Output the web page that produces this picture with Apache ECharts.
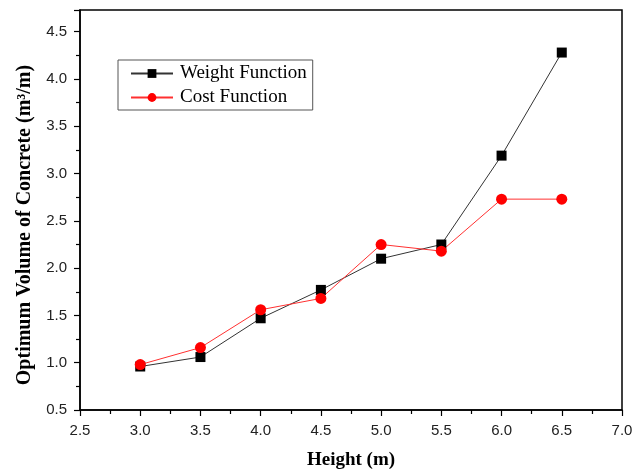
<!DOCTYPE html>
<html>
<head>
<meta charset="utf-8">
<script src="https://cdn.jsdelivr.net/npm/echarts@6/dist/echarts.min.js"></script>
<style>
  html, body { margin: 0; padding: 0; background: #fff; }
  #chart { width: 644px; height: 475px; }
</style>
</head>
<body>
<div id="chart"></div>
<script>
// heights (m)
const heights = [3.0, 3.5, 4.0, 4.5, 5.0, 5.5, 6.0, 6.5]
// optimum concrete volume, weight function
const weightFn = [0.96, 1.06, 1.47, 1.77, 2.10, 2.25, 3.19, 4.28]
// optimum concrete volume, cost function
const costFn = [0.98, 1.16, 1.56, 1.68, 2.25, 2.18, 2.73, 2.73]

const chart = echarts.init(document.getElementById('chart'))

const axisCommon = {
  axisLine: { show: true, lineStyle: { color: '#000', width: 1.5 } },
  axisTick: { show: true, inside: false, length: 6, lineStyle: { color: '#000', width: 1.2 } },
  minorTick: { show: true, splitNumber: 2, length: 4, lineStyle: { color: '#000', width: 1.2 } },
  splitLine: { show: false },
  axisLabel: {
    color: '#222',
    fontFamily: 'Liberation Sans',
    fontSize: 15,
    margin: 13,
    formatter: v => v.toFixed(1),
  },
  nameLocation: 'middle',
  nameTextStyle: {
    fontFamily: 'Liberation Serif',
    fontWeight: 'bold',
    fontSize: 19,
    color: '#000',
  },
}

chart.setOption({
  animation: false,
  grid: {
    left: 80,
    right: 22,
    top: 10,
    bottom: 63,
    show: true,
    borderColor: '#000',
    borderWidth: 1.5,
  },
  legend: {
    orient: 'vertical',
    left: 118,
    top: 60,
    padding: [4, 6, 3, 12],
    itemGap: 5,
    itemWidth: 42,
    itemHeight: 11,
    borderColor: '#555',
    borderWidth: 1,
    textStyle: { fontFamily: 'Liberation Serif', fontSize: 19, color: '#000', padding: [0, 0, 0, 2] },
    data: ['Weight Function', 'Cost Function'],
  },
  xAxis: {
    ...axisCommon,
    type: 'value',
    min: 2.5,
    max: 7.0,
    interval: 0.5,
    name: 'Height (m)',
    nameGap: 41,
  },
  yAxis: {
    ...axisCommon,
    type: 'value',
    min: 0.5,
    max: 4.73,
    interval: 0.5,
    axisLabel: { ...axisCommon.axisLabel, showMaxLabel: false },
    name: 'Optimum Volume of Concrete (m³/m)',
    nameGap: 45,
    nameTextStyle: { ...axisCommon.nameTextStyle, fontSize: 20, padding: [0, 30, 0, 0] },
  },
  series: [
    {
      name: 'Weight Function',
      type: 'line',
      data: heights.map((h, i) => [h, weightFn[i]]),
      symbol: 'rect',
      symbolSize: 10,
      itemStyle: { color: '#000' },
      lineStyle: { color: '#333', width: 1 },
    },
    {
      name: 'Cost Function',
      type: 'line',
      data: heights.map((h, i) => [h, costFn[i]]),
      symbol: 'circle',
      symbolSize: 11,
      itemStyle: { color: '#ff0000' },
      lineStyle: { color: '#ff3030', width: 1 },
    },
  ],
})
</script>
</body>
</html>
